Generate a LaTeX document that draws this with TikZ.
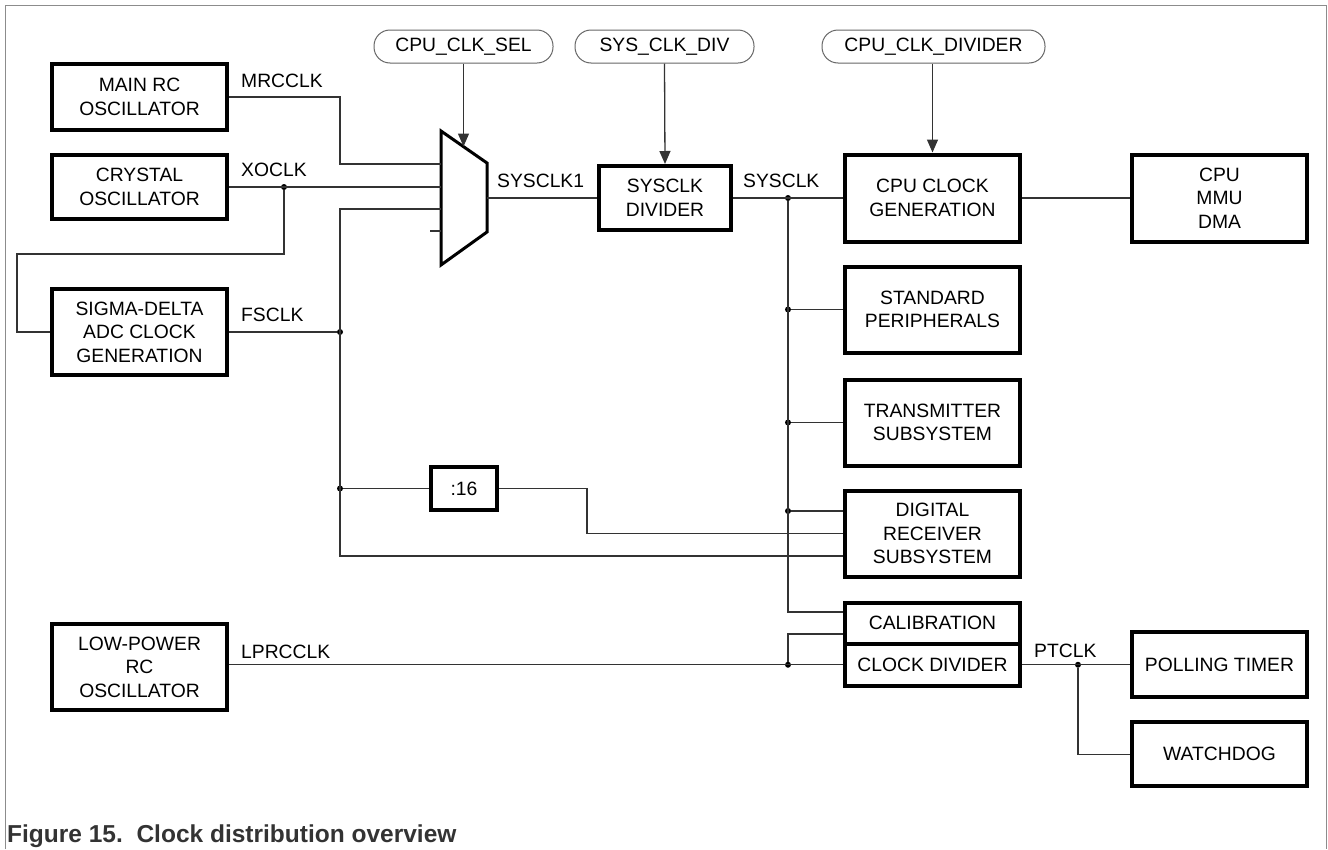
\documentclass[tikz,border=0pt]{standalone}
\usepackage{fontspec}
\setmainfont{Liberation Sans}
\usetikzlibrary{
  arrows.meta,
  positioning,
}

\tikzset{
  txt/.style={font=\fontsize{19.3}{23.5}\selectfont},
  blk/.style={txt, draw, line width=4pt, align=center, inner sep=0pt,
    minimum width=175pt},
  pill/.style={txt, draw=black!60, line width=1pt, rounded corners=16pt,
    minimum height=33pt, inner sep=0pt},
  wire/.style={draw=black!80, line width=1.3pt},
  ctl/.style={wire, -{Triangle[length=13pt,width=11pt]}},
  jdot/.style={circle, fill=black, inner sep=0pt, minimum size=6pt},
  sig/.style={txt, anchor=base west, inner sep=0pt},
  framec/.style={draw=black!45, line width=1pt},
}

\begin{document}
\begin{tikzpicture}[x=1pt, y=-1pt]
  \useasboundingbox (0,0) rectangle (1328,849);
  \draw [framec] (5,849) -- (5,5) -- (1326,5) -- (1326,849);

  % clock sources
  \node [blk, minimum height=66pt] (mrc) at (139.5,97) {MAIN RC\\OSCILLATOR};
  \node [blk, minimum height=64pt, below=21pt of mrc] (xo) {CRYSTAL\\OSCILLATOR};
  \node [blk, minimum height=86pt] (sd) at (139.5,332) {SIGMA-DELTA\\ADC CLOCK\\GENERATION};
  \node [blk, minimum height=86pt] (lpr) at (139.5,667) {LOW-POWER\\RC\\OSCILLATOR};

  % control registers
  \node [pill, minimum width=179pt] (clksel) at (463.5,46.5) {CPU\_CLK\_SEL};
  \node [pill, minimum width=179pt] (sysdivreg) at (664.5,46.5) {SYS\_CLK\_DIV};
  \node [pill, minimum width=223pt] (cpudivreg) at (933.5,46.5) {CPU\_CLK\_DIVIDER};

  % selector
  \draw [line width=3pt, line join=miter] (441,131) -- (487,163) -- (487,232) -- (441,265) -- cycle;
  \coordinate (muxa) at (441,164);
  \coordinate (muxb) at (441,187);
  \coordinate (muxc) at (441,209);
  \coordinate (muxd) at (441,231);
  \coordinate (muxout) at (487,198);
  \coordinate (muxsel) at (463.5,146.5);

  % dividers and consumers
  \node [blk, minimum width=132pt, minimum height=64pt] (sysdiv) at (665,198) {SYSCLK\\DIVIDER};
  \node [blk, minimum height=87pt] (cpugen) at (932.5,198) {CPU CLOCK\\GENERATION};
  \node [blk, minimum height=87pt, right=108pt of cpugen] (cpu) {CPU\\MMU\\DMA};
  \node [blk, minimum height=86pt, below=21pt of cpugen] (std) {STANDARD\\PERIPHERALS};
  \node [blk, minimum height=86pt, below=23pt of std] (tx) {TRANSMITTER\\SUBSYSTEM};
  \node [blk, minimum height=86pt, below=21pt of tx] (dr) {DIGITAL\\RECEIVER\\SUBSYSTEM};
  \node [blk, minimum height=41.5pt, below=22pt of dr] (cal) {CALIBRATION};
  \node [blk, minimum height=41.5pt, below=-4pt of cal] (clkdiv) {CLOCK DIVIDER};
  \node [blk, minimum height=65pt, right=108pt of clkdiv] (poll) {POLLING TIMER};
  \node [blk, minimum height=64pt, below=21pt of poll] (wdog) {WATCHDOG};
  \node [blk, minimum width=66pt, minimum height=43pt] (div16) at (464,488.5) {:16};

  % signal names
  \node [sig] (lblmrc) at (241,87) {MRCCLK};
  \node [sig] (lblxo) at (241,176) {XOCLK};
  \node [sig] (lblfs) at (241,321) {FSCLK};
  \node [sig] (lbllpr) at (241,658) {LPRCCLK};
  \node [sig] (lblsys1) at (497,187) {SYSCLK1};
  \node [sig] (lblsys) at (743,187) {SYSCLK};
  \node [sig] (lblpt) at (1034,657) {PTCLK};

  % junctions
  \node [jdot] (xodot) at (284,187) {};
  \node [jdot] (fsdot) at (340,332) {};
  \node [jdot] (fs16dot) at (fsdot |- div16.west) {};
  \node [jdot] (sysdot) at (788,198) {};
  \node [jdot] (stddot) at (sysdot |- std.west) {};
  \node [jdot] (txdot) at (sysdot |- tx.west) {};
  \node [jdot] (drdot) at (788,511) {};
  \node [jdot] (lpdot) at (sysdot |- clkdiv.west) {};
  \node [jdot] (ptdot) at (1078,0 |- clkdiv.east) {};
  \coordinate (loop) at (17,254);
  \coordinate (fsbot) at (340,556);
  \coordinate (jog) at (587,0 |- dr.west);
  \coordinate (calin) at (843,612);
  \coordinate (calin2) at (843,634);

  % clock wiring
  \draw [wire] (mrc.east) -| (fsdot |- muxa) -- (muxa);
  \draw [wire] (xo.east) -- (muxb);
  \draw [wire] (xodot) |- (loop) |- (sd.west);
  \draw [wire] (sd.east) -- (fsdot);
  \draw [wire] (muxc) -| (fsbot) -- (fsbot -| dr.west);
  \draw [wire] (muxd) -- ++(-11,0);
  \draw [wire] (fs16dot) -- (div16.west);
  \draw [wire] (div16.east) -| (jog) -- (dr.west);
  \draw [wire] (muxout) -- (sysdiv.west);
  \draw [wire] (sysdiv.east) -- (cpugen.west);
  \draw [wire] (cpugen.east) -- (cpu.west);
  \draw [wire] (sysdot) |- (calin);
  \draw [wire] (stddot) -- (std.west);
  \draw [wire] (txdot) -- (tx.west);
  \draw [wire] (drdot) -- (drdot -| dr.west);
  \draw [wire] (lpr.east |- clkdiv.west) -- (clkdiv.west);
  \draw [wire] (lpdot) |- (calin2);
  \draw [wire] (clkdiv.east) -- (poll.west);
  \draw [wire] (ptdot) |- (wdog.west);

  % control arrows
  \draw [ctl] (clksel.south) -- (muxsel);
  \draw [ctl] (sysdivreg.south) -- (sysdiv.north);
  \draw [ctl] (cpudivreg.south -| cpugen.north) -- (cpugen.north);

  \node [anchor=base west, inner sep=0pt, text=black!80,
    font=\fontsize{24.5}{28}\selectfont\bfseries] (caption) at (7,842)
    {Figure 15.\ \ Clock distribution overview};
\end{tikzpicture}
\end{document}
